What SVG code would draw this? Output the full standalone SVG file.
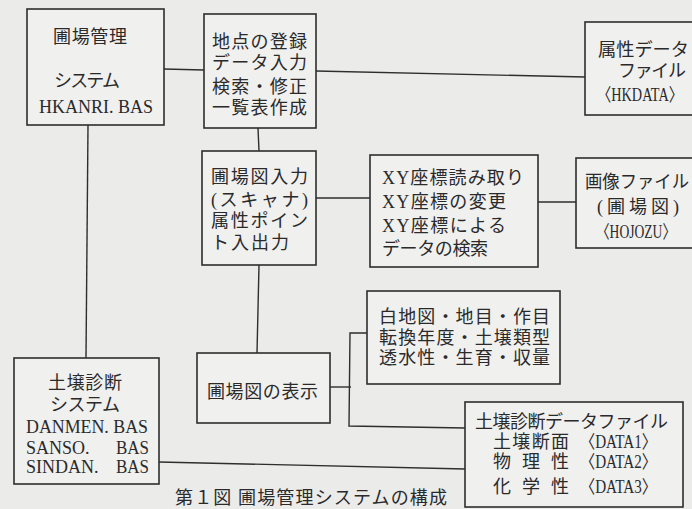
<svg xmlns="http://www.w3.org/2000/svg" width="692" height="509" viewBox="0 0 692 509">
<style>
.bg{fill:#ebebea}
.box{fill:#f0f0ef;stroke:#2e2e2e;stroke-width:1.6}
.ln{fill:none;stroke:#2e2e2e;stroke-width:1.4}
text{font-family:"Liberation Serif","Noto Sans CJK JP",serif;font-size:18px;fill:#2a2a2a}
.m{text-anchor:middle}
</style>
<rect class="bg" x="0" y="0" width="692" height="509"/>
<g id="connectors">
<line class="ln" x1="164" y1="69" x2="204" y2="70"/>
<line class="ln" x1="316" y1="71" x2="585" y2="77"/>
<line class="ln" x1="88" y1="125" x2="86" y2="358"/>
<line class="ln" x1="258" y1="128" x2="259" y2="151"/>
<line class="ln" x1="316" y1="198" x2="370" y2="198"/>
<line class="ln" x1="538" y1="202" x2="576" y2="202"/>
<line class="ln" x1="259" y1="265" x2="257" y2="353"/>
<polyline class="ln" points="330,387 351,387"/>
<polyline class="ln" points="367,333 350,333 349,426 465,428"/>
<line class="ln" x1="159" y1="462" x2="465" y2="469"/>
</g>
<g id="hkanri">
<rect class="box" x="27" y="9" width="137" height="116"/>
<text class="m" x="90" y="43" textLength="74" lengthAdjust="spacing">圃場管理</text>
<text class="m" x="87" y="87" font-size="16" textLength="66" lengthAdjust="spacing">システム</text>
<text class="m" x="96" y="113" font-size="17" textLength="114" lengthAdjust="spacingAndGlyphs">HKANRI. BAS</text>
</g>
<g id="touroku">
<rect class="box" x="204" y="14" width="112" height="114"/>
<text x="212" y="48" textLength="95" lengthAdjust="spacing">地点の登録</text>
<text x="212" y="69" textLength="95" lengthAdjust="spacing">データ入力</text>
<text x="212" y="93" textLength="95" lengthAdjust="spacing">検索・修正</text>
<text x="212" y="114" textLength="95" lengthAdjust="spacing">一覧表作成</text>
</g>
<g id="hkdata">
<rect class="box" x="585" y="22" width="120" height="93"/>
<text x="598" y="56" textLength="91" lengthAdjust="spacingAndGlyphs">属性データ</text>
<text x="618" y="77" font-size="17" textLength="68" lengthAdjust="spacing">ファイル</text>
<text x="597" y="101" font-size="14.5" textLength="86" lengthAdjust="spacingAndGlyphs">〈HKDATA〉</text>
</g>
<g id="nyuryoku">
<rect class="box" x="202" y="151" width="114" height="114"/>
<text x="211" y="183" textLength="97" lengthAdjust="spacing">圃場図入力</text>
<text x="211" y="206" textLength="97" lengthAdjust="spacing">(スキャナ)</text>
<text x="211" y="227" textLength="97" lengthAdjust="spacing">属性ポイン</text>
<text x="211" y="249" textLength="78" lengthAdjust="spacing">ト入出力</text>
</g>
<g id="xy">
<rect class="box" x="370" y="155" width="168" height="112"/>
<text x="382" y="184" font-size="19" textLength="142" lengthAdjust="spacing">XY座標読み取り</text>
<text x="382" y="208" font-size="19" textLength="124" lengthAdjust="spacing">XY座標の変更</text>
<text x="382" y="232" font-size="19" textLength="124" lengthAdjust="spacing">XY座標による</text>
<text x="382" y="255" font-size="19" textLength="106" lengthAdjust="spacing">データの検索</text>
</g>
<g id="hojozu">
<rect class="box" x="576" y="158" width="130" height="90"/>
<text x="585" y="188" textLength="104" lengthAdjust="spacingAndGlyphs">画像ファイル</text>
<text x="597" y="213" textLength="82" lengthAdjust="spacing">(圃場図)</text>
<text x="596" y="238" font-size="15" textLength="80" lengthAdjust="spacingAndGlyphs">〈HOJOZU〉</text>
</g>
<g id="hyouji">
<rect class="box" x="197" y="353" width="133" height="70"/>
<text x="207" y="398" textLength="111" lengthAdjust="spacing">圃場図の表示</text>
</g>
<g id="shindan">
<rect class="box" x="14" y="358" width="145" height="126"/>
<text x="48" y="389" textLength="74" lengthAdjust="spacing">土壌診断</text>
<text x="50" y="411" font-size="16" textLength="70" lengthAdjust="spacing">システム</text>
<text x="26" y="433" font-size="17" textLength="122" lengthAdjust="spacingAndGlyphs">DANMEN. BAS</text>
<text x="26" y="454" font-size="17">SANSO.</text>
<text x="116" y="454" font-size="17" textLength="33" lengthAdjust="spacingAndGlyphs">BAS</text>
<text x="26" y="473" font-size="17">SINDAN.</text>
<text x="116" y="473" font-size="17" textLength="33" lengthAdjust="spacingAndGlyphs">BAS</text>
</g>
<g id="zokusei">
<rect class="box" x="367" y="291" width="193" height="93"/>
<text x="379" y="323" textLength="171" lengthAdjust="spacing">白地図・地目・作目</text>
<text x="379" y="344" textLength="171" lengthAdjust="spacing">転換年度・土壌類型</text>
<text x="379" y="364" textLength="171" lengthAdjust="spacing">透水性・生育・収量</text>
</g>
<g id="datafile">
<rect class="box" x="465" y="402" width="218" height="105"/>
<text x="475" y="428" textLength="193" lengthAdjust="spacing">土壌診断データファイル</text>
<text x="493" y="448" textLength="76" lengthAdjust="spacing">土壌断面</text>
<text x="580" y="448" font-size="16" textLength="77" lengthAdjust="spacingAndGlyphs">〈DATA1〉</text>
<text x="493" y="468" textLength="76" lengthAdjust="spacing">物理性</text>
<text x="580" y="468" font-size="16" textLength="77" lengthAdjust="spacingAndGlyphs">〈DATA2〉</text>
<text x="493" y="493" textLength="76" lengthAdjust="spacing">化学性</text>
<text x="580" y="493" font-size="16" textLength="77" lengthAdjust="spacingAndGlyphs">〈DATA3〉</text>
</g>
<text x="175" y="504" font-size="16" textLength="272" lengthAdjust="spacing">第１図 圃場管理システムの構成</text>
</svg>
